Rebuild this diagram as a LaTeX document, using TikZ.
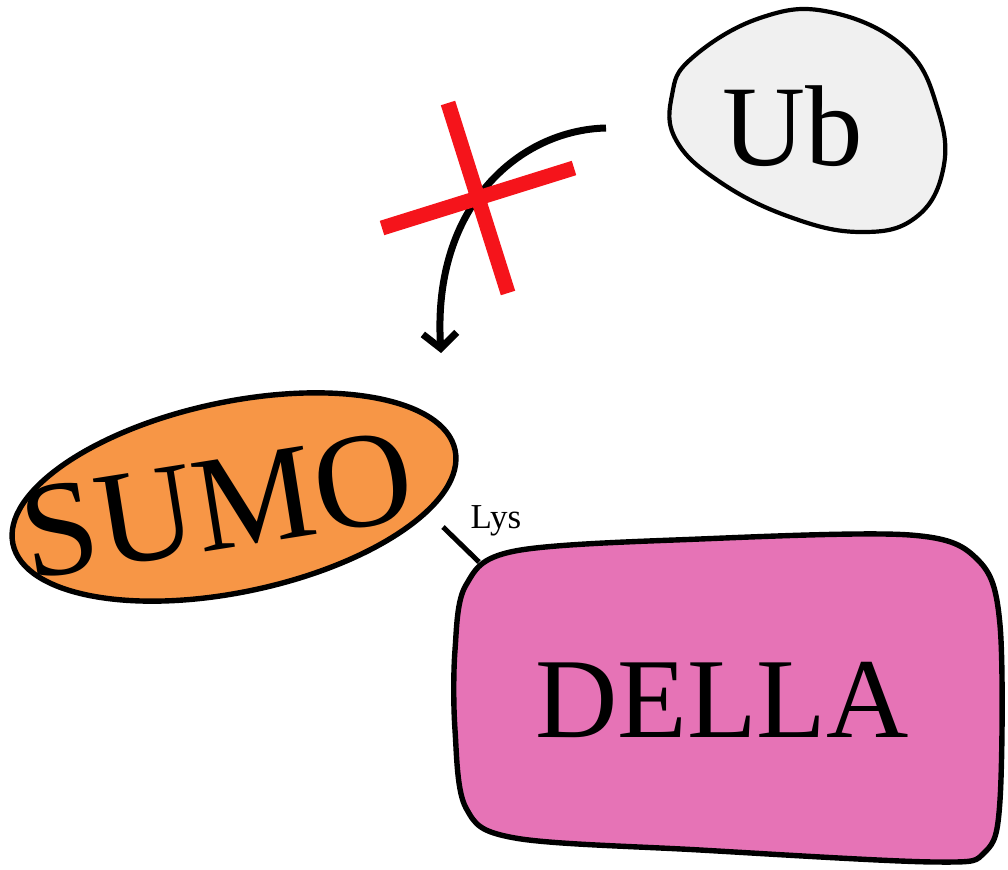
\documentclass[tikz,border=0pt]{standalone}
\usepackage{fontspec}
\setmainfont{Liberation Serif}
\usetikzlibrary{arrows.meta,shapes.geometric}
\definecolor{sumoorange}{HTML}{F79646}
\definecolor{dellapink}{HTML}{E673B6}
\definecolor{ubgray}{HTML}{F0F0F0}
\definecolor{xred}{HTML}{F5141B}
\tikzset{
  outline/.style={draw=black, line width=5.4pt, line join=round},
  bigtext/.style={inner sep=0pt, anchor=base},
  crossbar/.style={draw=xred, line width=15pt},
}
\begin{document}
\begin{tikzpicture}[x=1pt,y=-1pt]
\useasboundingbox (0,0) rectangle (1008,869);
% Ub blob
\draw[outline, line width=4.2pt, fill=ubgray] plot[smooth cycle, tension=0.7] coordinates {
 (692,58) (760,18) (830,12) (905,48) (938,110) (943,170) (915,218)
 (860,232) (790,217) (720,182) (676,140) (672,95)};
\node[bigtext, font=\fontsize{115}{120}\selectfont] (ub) at (793,165) {Ub};
% DELLA shape
\draw[outline, fill=dellapink] plot[smooth cycle, tension=0.55] coordinates {
 (455,650) (466,585) (515,551) (700,539) (910,535) (978,560) (1000,625)
 (1000,800) (985,852) (935,862) (700,850) (515,838) (466,808) (455,730)};
\coordinate (dellaedge) at (479,562);
\node[bigtext, font=\fontsize{114}{120}\selectfont] (della) at (722,737) {DELLA};
% SUMO ellipse
\node[ellipse, outline, fill=sumoorange, minimum width=452pt, minimum height=190pt,
      rotate=12, inner sep=0pt] (sumo) at (234,497) {};
\node[bigtext, rotate=9, font=\fontsize{136}{140}\selectfont] (sumotext) at (224,549) {SUMO};
% Lys link
\coordinate (sumoedge) at (443,527);
\draw[line width=5pt] (sumoedge) -- (dellaedge);
\node[bigtext, font=\fontsize{35}{38}\selectfont] (lys) at (496,528) {Lys};
% Arrow from Ub (blocked)
\coordinate (arrstart) at (606,128);
\coordinate (arrtip) at (441,353);
\draw[line width=7pt, -{Straight Barb[length=15pt,width=34pt,line width=7pt]}]
  (arrstart) .. controls (520,130) and (432,205) .. (arrtip);
% red cross
\coordinate (xa1) at (448,103);
\coordinate (xa2) at (508,293);
\coordinate (xb1) at (382,228);
\coordinate (xb2) at (574,168);
\draw[crossbar] (xa1) -- (xa2);
\draw[crossbar] (xb1) -- (xb2);
\end{tikzpicture}
\end{document}
